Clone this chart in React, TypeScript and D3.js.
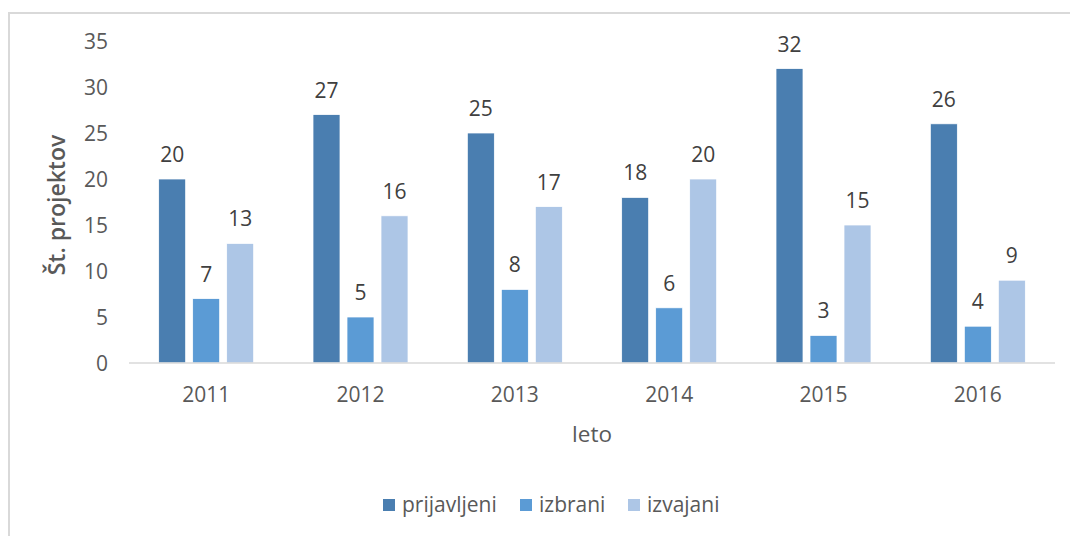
import React from "react";
import * as d3 from "d3";

const years = ["2011", "2012", "2013", "2014", "2015", "2016"];
const seriesNames = ["prijavljeni", "izbrani", "izvajani"];
const prijavljeni = [20, 27, 25, 18, 32, 26];
const izbrani = [7, 5, 8, 6, 3, 4];
const izvajani = [13, 16, 17, 20, 15, 9];
const yTicks = [0, 5, 10, 15, 20, 25, 30, 35];
const colors = ["#4a7eb0", "#5b9bd5", "#adc6e6"];

const W = 1070;
const H = 536;
const FONT = "'Open Sans', sans-serif";
const TXT = "#595959";

export default function App() {
  const values = [prijavljeni, izbrani, izvajani];
  const x = d3.scaleBand<string>().domain(years).range([129, 1055]).paddingInner(0).paddingOuter(0);
  const y = d3.scaleLinear().domain([0, 35]).range([363, 41]);
  const groupW = 95;
  const x1 = d3
    .scaleBand<string>()
    .domain(seriesNames)
    .range([-groupW / 2, groupW / 2])
    .paddingInner(7 / 34)
    .paddingOuter(0);

  const legendX = [383, 520, 628];

  return (
    <div style={{ position: "absolute", left: 0, top: 0 }}>
      <svg width={W} height={H} style={{ display: "block", background: "#fff" }}>
        {/* frame */}
        <path d={`M9,${H + 5} V13 H${W + 5}`} fill="none" stroke="#d9d9d9" strokeWidth={2} />
        {/* y ticks */}
        {yTicks.map((t) => (
          <text
            key={t}
            x={108}
            y={y(t)}
            dy="0.36em"
            textAnchor="end"
            fontFamily={FONT}
            fontSize={21}
            fill={TXT}
          >
            {t}
          </text>
        ))}
        {/* bars */}
        {years.map((yr, i) => {
          const cx = (x(yr) as number) + x.bandwidth() / 2;
          return (
            <g key={yr}>
              {seriesNames.map((s, j) => {
                const v = values[j][i];
                const bx = cx + (x1(s) as number);
                const bw = x1.bandwidth();
                return (
                  <g key={s}>
                    <rect
                      x={bx}
                      y={y(v)}
                      width={bw}
                      height={y(0) - y(v)}
                      fill={colors[j]}
                      stroke="#fff"
                      strokeWidth={0.75}
                    />
                    <text
                      x={bx + bw / 2}
                      y={y(v) - 17}
                      textAnchor="middle"
                      fontFamily={FONT}
                      fontSize={21}
                      fill="#404040"
                    >
                      {v}
                    </text>
                  </g>
                );
              })}
              <text x={cx} y={402} textAnchor="middle" fontFamily={FONT} fontSize={21} fill={TXT}>
                {yr}
              </text>
            </g>
          );
        })}
        {/* x axis line */}
        <line x1={129} x2={1055} y1={y(0)} y2={y(0)} stroke="#d9d9d9" strokeWidth={1.5} />
        {/* axis titles */}
        <text
          transform={`translate(65,205) rotate(-90)`}
          textAnchor="middle"
          fontFamily={FONT}
          fontSize={23}
          fontWeight={600}
          fill={TXT}
        >
          Št. projektov
        </text>
        <text x={592} y={442} textAnchor="middle" fontFamily={FONT} fontSize={22.5} fill={TXT}>
          leto
        </text>
        {/* legend */}
        {seriesNames.map((s, j) => (
          <g key={s}>
            <rect x={legendX[j]} y={499} width={12} height={12} fill={colors[j]} />
            <text x={legendX[j] + 19} y={512} fontFamily={FONT} fontSize={21} fill={TXT}>
              {s}
            </text>
          </g>
        ))}
      </svg>
    </div>
  );
}
